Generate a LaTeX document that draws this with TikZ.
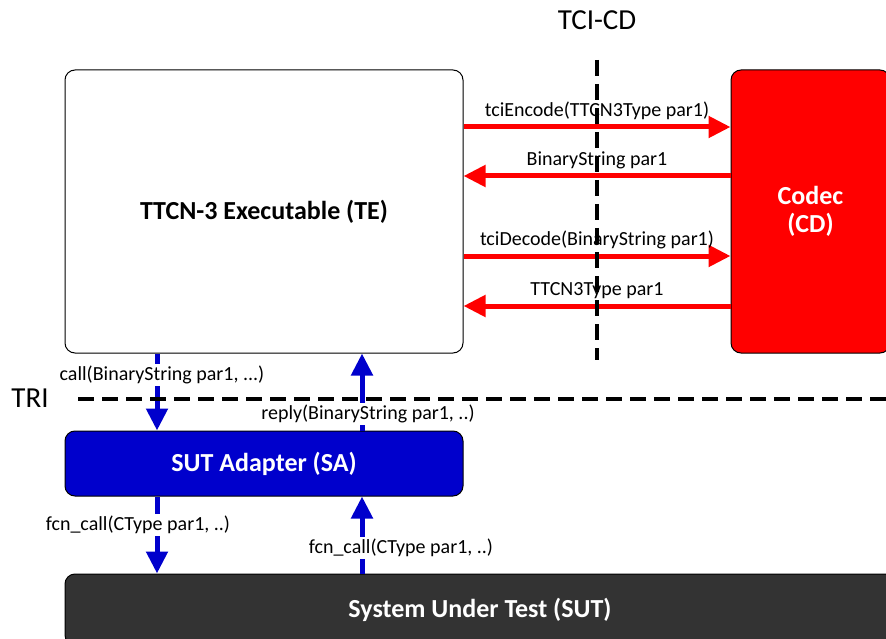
\documentclass[tikz,border=0pt]{standalone}
\usepackage{fontspec}
\setmainfont{Carlito}
\usetikzlibrary{arrows.meta}
\definecolor{sablue}{RGB}{0,0,204}
\definecolor{sutgray}{RGB}{51,51,51}
\begin{document}
\begin{tikzpicture}[x=1pt, y=-1pt,
    block/.style={draw, line width=1pt, rectangle, rounded corners=10pt, text centered, align=center,
                  font=\fontsize{26}{28}\selectfont\bfseries},
    redarr/.style={draw=red, line width=5pt, -{Triangle[length=22pt, width=21pt]}},
    bluearr/.style={draw=sablue, line width=5pt, -{Triangle[length=22pt, width=21pt]}},
    msg/.style={font=\fontsize{20}{23}\selectfont, inner sep=2pt},
    ifline/.style={line width=4pt, dash pattern=on 16pt off 8pt},
    iflabel/.style={font=\fontsize{29}{32}\selectfont}
]
    \useasboundingbox (0,0) rectangle (886,639);

    \node[block, fill=white, minimum width=398pt, minimum height=283pt] (te) at (264,211.5) {TTCN-3 Executable (TE)};
    \node[block, fill=red, text=white, minimum width=159pt, minimum height=283pt] (cd) at (810.5,211.5) {Codec\\(CD)};
    \node[block, fill=sablue, text=white, minimum width=398pt, minimum height=65pt] (sa) at (264,463.5) {SUT Adapter (SA)};
    \node[block, fill=sutgray, text=white, minimum width=830pt, minimum height=71pt] (sut) at (480,609.5) {System Under Test (SUT)};

    \draw[redarr] (te.east |- 0,127) -- node[msg, above=3pt]{tciEncode(TTCN3Type par1)} (cd.west |- 0,127);
    \draw[redarr] (cd.west |- 0,176) -- node[msg, above=3pt]{BinaryString par1} (te.east |- 0,176);
    \draw[redarr] (te.east |- 0,256) -- node[msg, above=3pt]{tciDecode(BinaryString par1)} (cd.west |- 0,256);
    \draw[redarr] (cd.west |- 0,306) -- node[msg, above=3pt]{TTCN3Type par1} (te.east |- 0,306);

    \draw[bluearr] (te.south -| 157,0) -- (sa.north -| 157,0);
    \draw[bluearr] (sa.north -| 362,0) -- (te.south -| 362,0);
    \draw[bluearr] (sa.south -| 157,0) -- (sut.north -| 157,0);
    \draw[bluearr] (sut.north -| 362,0) -- (sa.south -| 362,0);

    \node[msg, fill=white] (callmsg) at (162,375) {call(BinaryString par1, ...)};
    \node[msg, fill=white] (replymsg) at (368,414) {reply(BinaryString par1, ..)};
    \node[msg, fill=white] (fcndown) at (138,525) {fcn\_call(CType par1, ..)};
    \node[msg, fill=white] (fcnup) at (401,548) {fcn\_call(CType par1, ..)};

    \node[iflabel] (tcicd) at (597,20) {TCI-CD};
    \node[iflabel] (tri) at (30,398) {TRI};
    \coordinate (tcitop) at (597,60);
    \coordinate (tcibot) at (597,360);
    \coordinate (trileft) at (78,399);
    \coordinate (triright) at (886,399);
    \draw[ifline] (tcitop) -- (tcibot);
    \draw[ifline] (trileft) -- (triright);
\end{tikzpicture}
\end{document}
